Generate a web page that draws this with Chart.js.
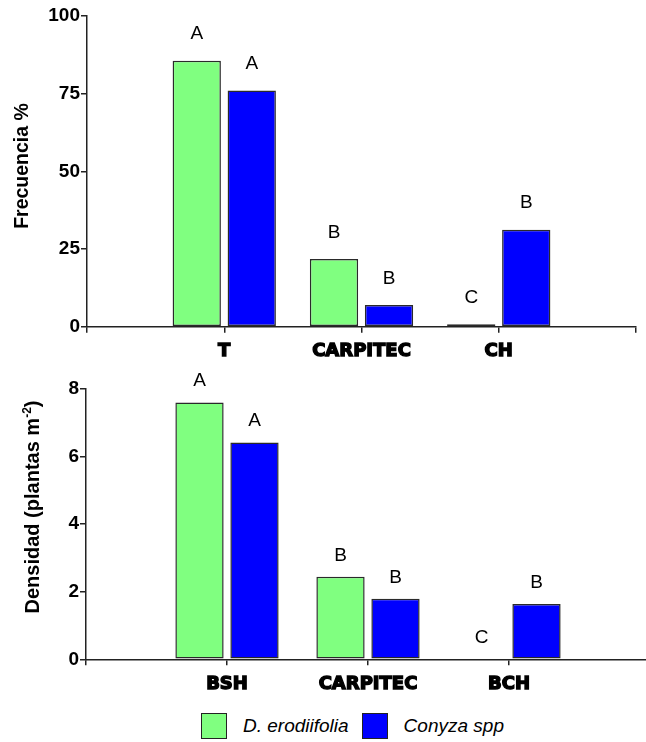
<!DOCTYPE html>
<html>
<head>
<meta charset="utf-8">
<script src="https://cdn.jsdelivr.net/npm/chart.js@4.4.1/dist/chart.umd.min.js"></script>
<style>
  html, body { margin: 0; padding: 0; background: #fff; overflow: hidden; width: 646px; height: 742px; }
  #wrap { position: relative; width: 646px; height: 742px; }
  #freqChart { position: absolute; left: 0; top: 0; }
  #densChart { position: absolute; left: 0; top: 365px; }
  #legend { position: absolute; left: 201px; top: 713px; display: flex; align-items: center; height: 26px;
            font: italic 19px 'Liberation Sans', Arial, sans-serif; color: #000; }
  .swatch { width: 26px; height: 26px; box-sizing: border-box; border: 1.5px solid #222; }
  .name { margin-left: 16px; margin-right: 13px; white-space: nowrap; }
</style>
</head>
<body>
<div id="wrap">
  <canvas id="freqChart" width="646" height="365"></canvas>
  <canvas id="densChart" width="660" height="335"></canvas>
  <div id="legend"></div>
</div>
<script>
// Series and categories
const seriesNames = ['D. erodiifolia', 'Conyza spp'];
const seriesColors = ['#80FF80', '#0000FF'];

const freqCategories = ['T', 'CARPITEC', 'CH'];
const freqErodiifolia = [85.6, 21.8, 0.8];
const freqConyza = [76.0, 7.0, 31.2];
const freqLettersErodiifolia = ['A', 'B', 'C'];
const freqLettersConyza = ['A', 'B', 'B'];
const freqTicks = [0, 25, 50, 75, 100];
const freqTitle = [{ text: 'Frecuencia %' }];

const densCategories = ['BSH', 'CARPITEC', 'BCH'];
const densErodiifolia = [7.60, 2.44, 0];
const densConyza = [6.42, 1.79, 1.64];
const densLettersErodiifolia = ['A', 'B', 'C'];
const densLettersConyza = ['A', 'B', 'B'];
const densTicks = [0, 2, 4, 6, 8];
const densTitle = [{ text: 'Densidad (plantas m' }, { text: '-2', sup: true }, { text: ')' }];

const AXIS_COLOR = '#222';
const BASE_FONT = "'Liberation Sans', Arial, Helvetica, sans-serif";
const HEAVY_FONT = "'DejaVu Sans', Verdana, sans-serif";

// Empty slots on both ends leave room left of the first group and right of the last
const padCats = cats => ['', ...cats, ''];
const padVals = vals => [null, ...vals, null];

// Draws the significance letters above each bar
const lettersPlugin = {
  id: 'sigLetters',
  afterDatasetsDraw(chart, args, opts) {
    const ctx = chart.ctx;
    ctx.save();
    ctx.font = '19px ' + BASE_FONT;
    ctx.fillStyle = '#000';
    ctx.textAlign = 'center';
    ctx.textBaseline = 'bottom';
    chart.data.datasets.forEach((ds, di) => {
      const meta = chart.getDatasetMeta(di);
      meta.data.forEach((bar, i) => {
        const letter = ds.letters[i];
        if (!letter) return;
        ctx.fillText(letter, bar.x, bar.y - opts.gap);
      });
    });
    ctx.restore();
  }
};

// Vertical axis title with optional superscript runs
const yTitlePlugin = {
  id: 'yTitle',
  afterDraw(chart, args, opts) {
    const ctx = chart.ctx;
    const size = opts.size;
    const supSize = Math.round(size * 0.62);
    const fontFor = p => 'bold ' + (p.sup ? supSize : size) + 'px ' + BASE_FONT;
    let total = 0;
    opts.parts.forEach(p => { ctx.font = fontFor(p); total += ctx.measureText(p.text).width; });
    ctx.save();
    ctx.translate(opts.x, opts.y);
    ctx.rotate(-Math.PI / 2);
    ctx.fillStyle = '#000';
    ctx.textAlign = 'left';
    ctx.textBaseline = 'alphabetic';
    let x = -total / 2;
    const base = size * 0.36;
    opts.parts.forEach(p => {
      ctx.font = fontFor(p);
      ctx.fillText(p.text, x, p.sup ? base - size * 0.42 : base);
      x += ctx.measureText(p.text).width;
    });
    ctx.restore();
  }
};

function makeChart(canvasId, cfg) {
  return new Chart(document.getElementById(canvasId), {
    type: 'bar',
    data: {
      labels: padCats(cfg.categories),
      datasets: [
        { label: seriesNames[0], data: padVals(cfg.values[0]), letters: [null, ...cfg.letters[0], null],
          backgroundColor: seriesColors[0] },
        { label: seriesNames[1], data: padVals(cfg.values[1]), letters: [null, ...cfg.letters[1], null],
          backgroundColor: seriesColors[1] }
      ]
    },
    options: {
      responsive: false,
      animation: false,
      devicePixelRatio: 1,
      categoryPercentage: cfg.categoryPercentage,
      barPercentage: 0.878,
      borderColor: '#2a2a2a',
      borderWidth: 1.5,
      borderSkipped: false,
      layout: { padding: { top: cfg.padTop, right: cfg.padRight, left: 0, bottom: 0 } },
      plugins: {
        legend: { display: false },
        tooltip: { enabled: false },
        sigLetters: { gap: cfg.letterGap },
        yTitle: { parts: cfg.yTitle, size: cfg.yTitleSize, x: cfg.yTitleX, y: cfg.yTitleY }
      },
      scales: {
        x: {
          type: 'category',
          offset: false,
          grid: { offset: false, drawOnChartArea: false, drawTicks: true, tickLength: 6, color: AXIS_COLOR, lineWidth: 1.5 },
          border: { display: true, color: AXIS_COLOR, width: 1.5 },
          ticks: { color: '#000', font: { family: HEAVY_FONT, size: 18, weight: 'bold' },
                   textStrokeColor: '#000', textStrokeWidth: 1.4, padding: 8,
                   autoSkip: false, maxRotation: 0 },
          afterFit: s => { s.height = cfg.xAxisHeight; }
        },
        y: {
          min: cfg.ticks[0],
          max: cfg.ticks[cfg.ticks.length - 1],
          afterBuildTicks: s => { s.ticks = cfg.ticks.map(v => ({ value: v })); },
          grid: { drawOnChartArea: false, drawTicks: true, tickLength: 6, color: AXIS_COLOR, lineWidth: 1.5 },
          border: { display: true, color: AXIS_COLOR, width: 1.5 },
          ticks: { color: '#000', font: { family: BASE_FONT, size: 19, weight: 'bold' }, padding: 1 },
          afterFit: s => { s.width = cfg.yAxisWidth; }
        }
      }
    },
    plugins: [lettersPlugin, yTitlePlugin]
  });
}

const freqChart = makeChart('freqChart', {
  categories: freqCategories,
  values: [freqErodiifolia, freqConyza],
  letters: [freqLettersErodiifolia, freqLettersConyza],
  ticks: freqTicks,
  yTitle: freqTitle, yTitleSize: 19.5, yTitleX: 21, yTitleY: 166,
  categoryPercentage: 0.8015,
  padTop: 16, padRight: 10,
  yAxisWidth: 87, xAxisHeight: 38.3,
  letterGap: 17
});

const densChart = makeChart('densChart', {
  categories: densCategories,
  values: [densErodiifolia, densConyza],
  letters: [densLettersErodiifolia, densLettersConyza],
  ticks: densTicks,
  yTitle: densTitle, yTitleSize: 20, yTitleX: 32, yTitleY: 142,
  categoryPercentage: 0.78,
  padTop: 24, padRight: 10,
  yAxisWidth: 86, xAxisHeight: 40.7,
  letterGap: 12
});

// Legend built from the dataset styles
const legendEl = document.getElementById('legend');
densChart.data.datasets.forEach(ds => {
  const sw = document.createElement('span');
  sw.className = 'swatch';
  sw.style.background = ds.backgroundColor;
  const nm = document.createElement('span');
  nm.className = 'name';
  nm.textContent = ds.label;
  legendEl.appendChild(sw);
  legendEl.appendChild(nm);
});
</script>
</body>
</html>
